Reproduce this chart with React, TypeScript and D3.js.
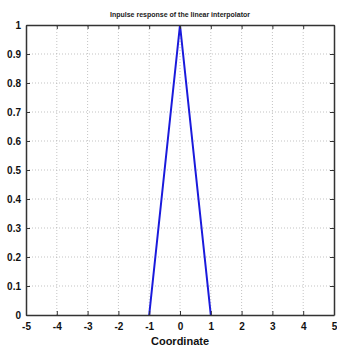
import React, { useRef, useEffect } from "react";
import * as d3 from "d3";

const xs = [-1, 0, 1];
const ys = [0, 1, 0];
const xTicks = [-5, -4, -3, -2, -1, 0, 1, 2, 3, 4, 5];
const yTicks = [0, 0.1, 0.2, 0.3, 0.4, 0.5, 0.6, 0.7, 0.8, 0.9, 1];
const title = "Inpulse response of the linear interpolator";
const xLabel = "Coordinate";

export default function App() {
  const ref = useRef<SVGSVGElement>(null);

  useEffect(() => {
    const width = 337;
    const height = 349;
    const margin = { top: 25, right: 3, bottom: 34, left: 26 };
    const svg = d3.select(ref.current);
    svg.selectAll("*").remove();
    svg.attr("width", width).attr("height", height);

    svg.append("rect").attr("width", width).attr("height", height).attr("fill", "#fff");

    const x = d3.scaleLinear().domain([-5, 5]).range([margin.left, width - margin.right]);
    const y = d3.scaleLinear().domain([0, 1]).range([height - margin.bottom, margin.top]);

    // grid
    svg.append("g")
      .selectAll("line")
      .data(xTicks.slice(1, -1))
      .enter()
      .append("line")
      .attr("x1", d => x(d)).attr("x2", d => x(d))
      .attr("y1", y(0)).attr("y2", y(1))
      .attr("stroke", "#aaa").attr("stroke-width", 0.7).attr("stroke-dasharray", "1,2");
    svg.append("g")
      .selectAll("line")
      .data(yTicks.slice(1, -1))
      .enter()
      .append("line")
      .attr("y1", d => y(d)).attr("y2", d => y(d))
      .attr("x1", x(-5)).attr("x2", x(5))
      .attr("stroke", "#aaa").attr("stroke-width", 0.7).attr("stroke-dasharray", "1,2");

    // data line
    const pts = xs.map((v, i) => [v, ys[i]] as [number, number]);
    svg.append("path")
      .datum(pts)
      .attr("d", d3.line().x(d => x(d[0])).y(d => y(d[1])))
      .attr("fill", "none")
      .attr("stroke", "#1a1adc")
      .attr("stroke-width", 2);

    // axes with inward ticks
    const bottom = svg.append("g")
      .attr("transform", `translate(0,${y(0)})`)
      .call(d3.axisBottom(x).tickValues(xTicks).tickSizeInner(-4).tickSizeOuter(0).tickPadding(8).tickFormat(d => String(d)));
    const left = svg.append("g")
      .attr("transform", `translate(${x(-5)},0)`)
      .call(d3.axisLeft(y).tickValues(yTicks).tickSizeInner(-4).tickSizeOuter(0).tickPadding(5).tickFormat(d => String(d)));
    svg.append("g")
      .attr("transform", `translate(0,${y(1)})`)
      .call(d3.axisTop(x).tickValues(xTicks).tickSizeInner(-4).tickSizeOuter(0).tickFormat(() => ""));
    svg.append("g")
      .attr("transform", `translate(${x(5)},0)`)
      .call(d3.axisRight(y).tickValues(yTicks).tickSizeInner(-4).tickSizeOuter(0).tickFormat(() => ""));

    svg.selectAll(".domain").attr("stroke", "#333").attr("stroke-width", 1.5);
    svg.selectAll(".tick line").attr("stroke", "#333");
    [bottom, left].forEach(g =>
      g.selectAll("text")
        .attr("font-family", "Liberation Sans, Arial, sans-serif")
        .attr("font-weight", "bold")
        .attr("font-size", 10)
        .attr("fill", "#111")
    );

    svg.append("text")
      .attr("x", x(0)).attr("y", 17)
      .attr("text-anchor", "middle")
      .attr("font-family", "Liberation Sans, Arial, sans-serif")
      .attr("font-weight", "bold")
      .attr("font-size", 7)
      .attr("fill", "#222")
      .text(title);

    svg.append("text")
      .attr("x", x(0)).attr("y", 345)
      .attr("text-anchor", "middle")
      .attr("font-family", "Liberation Sans, Arial, sans-serif")
      .attr("font-weight", "bold")
      .attr("font-size", 11)
      .attr("fill", "#111")
      .text(xLabel);
  }, []);

  return <svg ref={ref} style={{ position: "absolute", left: 0, top: 0 }}></svg>;
}
